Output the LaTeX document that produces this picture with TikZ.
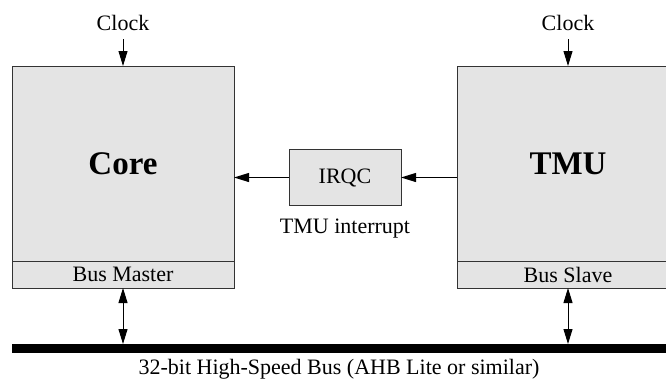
\documentclass[tikz,border=0pt]{standalone}
\usepackage{fontspec}
\setmainfont{Liberation Serif}
\usetikzlibrary{arrows.meta}
\definecolor{boxfill}{HTML}{E4E4E4}
\definecolor{boxline}{HTML}{333333}
\begin{document}
\begin{tikzpicture}[x=1pt,y=-1pt,
  every node/.style={inner sep=0pt, outer sep=0pt},
  txt/.style={font=\fontsize{22}{26}\selectfont},
  bigtxt/.style={font=\fontsize{33}{38}\selectfont\bfseries},
  unit/.style={draw=boxline, fill=boxfill, line width=1pt, minimum width=222pt},
  port/.style={unit, minimum height=27pt, font=\fontsize{22}{26}\selectfont},
  irqbox/.style={draw=boxline, fill=boxfill, line width=1pt, minimum width=112pt, minimum height=56pt, font=\fontsize{22}{26}\selectfont},
  sig/.style={line width=1pt, -{Triangle[length=15pt,width=9pt]}},
  bussig/.style={line width=1pt, {Triangle[length=15pt,width=9pt]}-{Triangle[length=15pt,width=9pt]}}
]
\useasboundingbox (0,0) rectangle (666,380);
\begin{scope}
\clip (0,0) rectangle (666,380);

% processor core with its bus master port
\node[unit, minimum height=195pt] (core) at (123,163.5) {};
\node[bigtxt] at (core.center) {Core};
\node[port, anchor=north] (bm) at (core.south) {Bus Master};

% timer unit with its bus slave port
\node[unit, minimum height=195pt] (tmu) at (568,163.5) {};
\node[bigtxt] at (tmu.center) {TMU};
\node[port, anchor=north] (bs) at (tmu.south) {Bus Slave};

% interrupt controller
\node[irqbox] (irqc) at (345,177.5) {IRQC};
\node[txt, anchor=base] (irqlbl) at (345,233) {TMU interrupt};

% clock inputs
\node[txt, anchor=base] (clkc) at (123,30) {Clock};
\node[txt, anchor=base] (clkt) at (568,30) {Clock};
\coordinate (clkcin) at (123,39);
\coordinate (clktin) at (568,39);
\draw[sig] (clkcin) -- (core.north);
\draw[sig] (clktin) -- (tmu.north);

% interrupt path
\draw[sig] (tmu.west |- irqc.east) -- (irqc.east);
\draw[sig] (irqc.west) -- (core.east |- irqc.west);

% system bus
\node[fill=black, minimum width=700pt, minimum height=9pt, anchor=north west] (bus) at (12,344) {};
\node[txt, anchor=base] (buslbl) at (339,374) {32-bit High-Speed Bus (AHB Lite or similar)};
\draw[bussig] (bm.south) -- (bm.south |- bus.north);
\draw[bussig] (bs.south) -- (bs.south |- bus.north);
\end{scope}
\end{tikzpicture}
\end{document}
